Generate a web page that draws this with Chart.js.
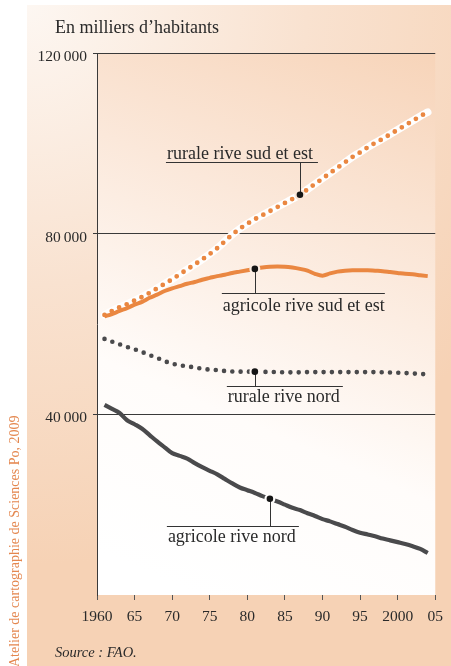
<!DOCTYPE html>
<html lang="fr">
<head>
<meta charset="utf-8">
<title>Population rurale et agricole en Méditerranée</title>
<script src="https://cdn.jsdelivr.net/npm/chart.js@4.4.1/dist/chart.umd.min.js"></script>
<style>
  html, body { margin: 0; padding: 0; background: #fff; }
  canvas { display: block; }
</style>
</head>
<body>
<canvas id="chart" width="451" height="666"></canvas>
<script>
// population en milliers d'habitants, FAO 1961-2004
const years = [1961, 1962, 1963, 1964, 1965, 1966, 1967, 1968, 1969, 1970,
  1971, 1972, 1973, 1974, 1975, 1976, 1977, 1978, 1979, 1980,
  1981, 1982, 1983, 1984, 1985, 1986, 1987, 1988, 1989, 1990,
  1991, 1992, 1993, 1994, 1995, 1996, 1997, 1998, 1999, 2000,
  2001, 2002, 2003, 2004];

const ruraleSud = [62000, 62900, 63700, 64400, 65200, 66000, 66900, 67900, 68900, 69900,
  71000, 72100, 73200, 74300, 75500, 76800, 78300, 79800, 81100, 82200,
  83200, 84100, 85000, 85900, 86800, 87700, 88600, 89800, 91000, 92200,
  93400, 94600, 95800, 97000, 98000, 99100, 100100, 101000, 102000, 103000,
  104000, 105000, 106000, 106900];

const agricoleSud = [61700, 62200, 62900, 63500, 64300, 64900, 65800, 66500, 67300, 67900,
  68400, 68900, 69300, 69800, 70200, 70600, 70900, 71300, 71600, 71900,
  72200, 72500, 72700, 72750, 72700, 72500, 72200, 71800, 71100, 70700,
  71200, 71600, 71800, 71900, 71900, 71900, 71800, 71700, 71500, 71300,
  71100, 71000, 70800, 70600];

const ruraleNord = [56700, 56100, 55500, 54900, 54400, 53800, 53100, 52500, 51800, 51200,
  50900, 50600, 50400, 50100, 49900, 49800, 49600, 49500, 49450, 49450,
  49450, 49400, 49400, 49350, 49300, 49300, 49300, 49350, 49350, 49350,
  49350, 49350, 49350, 49350, 49350, 49350, 49350, 49300, 49250, 49200,
  49150, 49050, 48950, 48850];

const agricoleNord = [42100, 41200, 40300, 38700, 37800, 36800, 35400, 34000, 32700, 31400,
  30800, 30200, 29200, 28300, 27500, 26700, 25700, 24700, 23800, 23200,
  22600, 21900, 21300, 20700, 20000, 19300, 18800, 18100, 17500, 16800,
  16300, 15700, 15100, 14400, 13800, 13400, 13000, 12500, 12100, 11700,
  11300, 10800, 10200, 9300];

const seriesNames = ['rurale rive sud et est', 'agricole rive sud et est', 'rurale rive nord', 'agricole rive nord'];
const markerYears = [1987, 1981, 1981, 1983];

const xTickYears = [1960, 1965, 1970, 1975, 1980, 1985, 1990, 1995, 2000, 2005];
const xTickLabels = ['1960', '65', '70', '75', '80', '85', '90', '95', '2000', '05'];
const yTickValues = [40000, 80000, 120000];
const yTickLabels = ['40\u2009000', '80\u2009000', '120\u2009000'];

const ORANGE = '#ea8741';
const GREY = '#4a4a4c';
const INK = '#2a2a2a';
const SERIF = "'Liberation Serif', 'DejaVu Serif', serif";

const pairs = vals => vals.map((v, i) => ({ x: years[i], y: v }));

// where each callout's rule and text sit, relative to its marker
const calloutLayout = [
  { from: -134, to: 18, ruleDy: -33, textDy: -4 },
  { from: -33, to: 130, ruleDy: 24, textDy: 17 },
  { from: -28, to: 88, ruleDy: 14, textDy: 15 },
  { from: -103, to: 29, ruleDy: 27, textDy: 15 }
];

let plotFill = null;

const backdrop = {
  id: 'backdrop',
  beforeDraw(chart) {
    const { ctx, chartArea: a, width, height } = chart;
    ctx.save();
    ctx.fillStyle = '#fff';
    ctx.fillRect(0, 0, width, height);

    const panel = ctx.createRadialGradient(27, 5, 0, 27, 5, 560);
    panel.addColorStop(0, '#fdf7f2');
    panel.addColorStop(0.5, '#f9e2d0');
    panel.addColorStop(1, '#f6d2b5');
    ctx.fillStyle = panel;
    ctx.fillRect(27, 5, width - 27, height - 5);

    const w = a.right - a.left;
    plotFill = ctx.createLinearGradient(a.left + w * 0.3, a.bottom, a.right, a.top);
    plotFill.addColorStop(0, '#ffffff');
    plotFill.addColorStop(0.3, '#fffcfa');
    plotFill.addColorStop(0.65, '#fbe8da');
    plotFill.addColorStop(1, '#f7d4b9');
    ctx.fillStyle = plotFill;
    ctx.fillRect(a.left, a.top, w, a.bottom - a.top);
    ctx.restore();
  }
};

const callouts = {
  id: 'callouts',
  afterDatasetsDraw(chart) {
    const { ctx } = chart;
    ctx.save();
    seriesNames.forEach((name, s) => {
      const pt = chart.getDatasetMeta(s).data[years.indexOf(markerYears[s])];
      const L = calloutLayout[s];
      const x = pt.x, y = pt.y;
      const ruleY = Math.round(y + L.ruleDy) + 0.5;

      // gap in the line around the marker
      ctx.fillStyle = plotFill;
      ctx.beginPath();
      ctx.arc(x, y, 5.5, 0, Math.PI * 2);
      ctx.fill();

      ctx.strokeStyle = '#333';
      ctx.lineWidth = 1;
      ctx.beginPath();
      ctx.moveTo(Math.round(x) + 0.5, y);
      ctx.lineTo(Math.round(x) + 0.5, ruleY);
      ctx.moveTo(x + L.from, ruleY);
      ctx.lineTo(x + L.to, ruleY);
      ctx.stroke();

      ctx.fillStyle = '#151515';
      ctx.beginPath();
      ctx.arc(x, y, 3.3, 0, Math.PI * 2);
      ctx.fill();

      ctx.fillStyle = INK;
      ctx.font = '18px ' + SERIF;
      ctx.textAlign = 'left';
      ctx.textBaseline = 'alphabetic';
      ctx.fillText(name, x + L.from + 1, ruleY + L.textDy);
    });
    ctx.restore();
  },
  afterDraw(chart) {
    const { ctx, height } = chart;
    ctx.save();
    ctx.fillStyle = INK;
    ctx.textAlign = 'left';
    ctx.textBaseline = 'alphabetic';
    ctx.font = '18px ' + SERIF;
    ctx.fillText('En milliers d\u2019habitants', 55, 33);
    ctx.font = 'italic 14.5px ' + SERIF;
    ctx.fillText('Source : FAO.', 55, 657);

    ctx.fillStyle = '#e4874f';
    ctx.font = '14px ' + SERIF;
    ctx.translate(19, height + 1);
    ctx.rotate(-Math.PI / 2);
    ctx.fillText('Atelier de cartographie de Sciences Po, 2009', 0, 0);
    ctx.restore();
  }
};

new Chart(document.getElementById('chart'), {
  type: 'line',
  data: {
    datasets: [
      { label: seriesNames[0], data: pairs(ruraleSud), borderColor: ORANGE, borderWidth: 4.8,
        borderDash: [0, 8.2], borderCapStyle: 'round', order: 1 },
      { label: seriesNames[1], data: pairs(agricoleSud), borderColor: ORANGE, borderWidth: 4, order: 2 },
      { label: seriesNames[2], data: pairs(ruraleNord), borderColor: GREY, borderWidth: 4.6,
        borderDash: [0, 8.3], borderCapStyle: 'round', order: 3 },
      { label: seriesNames[3], data: pairs(agricoleNord), borderColor: GREY, borderWidth: 4.2, order: 4 },
      // white halo under the dotted southern rural line
      { label: 'halo', data: pairs(ruraleSud), borderColor: '#ffffff', borderWidth: 7.5,
        borderCapStyle: 'round', order: 9 }
    ]
  },
  options: {
    responsive: false,
    animation: false,
    events: [],
    elements: {
      point: { radius: 0 },
      line: { cubicInterpolationMode: 'monotone', fill: false }
    },
    layout: { padding: { left: 27, right: 11, top: 53, bottom: 31 } },
    plugins: { legend: { display: false }, tooltip: { enabled: false } },
    scales: {
      x: {
        type: 'linear', min: 1960, max: 2005,
        afterBuildTicks: s => { s.ticks = xTickYears.map(v => ({ value: v })); },
        afterFit: s => { s.height = 40; },
        grid: { drawOnChartArea: false, drawTicks: true, tickLength: 5, color: '#555', lineWidth: 1 },
        border: { display: false },
        ticks: {
          padding: 8, maxRotation: 0, autoSkip: false, color: INK,
          font: { family: SERIF, size: 15.5 },
          callback: v => xTickLabels[xTickYears.indexOf(v)]
        }
      },
      y: {
        min: 0, max: 120000,
        afterBuildTicks: s => { s.ticks = yTickValues.map(v => ({ value: v })); },
        afterFit: s => { s.width = 70; },
        grid: { color: '#3a3a3a', lineWidth: 1, tickLength: 4 },
        border: { display: true, color: '#3a3a3a', width: 1 },
        ticks: {
          padding: 6, labelOffset: 4, color: INK,
          font: { family: SERIF, size: 15.5 },
          callback: v => yTickLabels[yTickValues.indexOf(v)]
        }
      }
    }
  },
  plugins: [backdrop, callouts]
});
</script>
</body>
</html>
